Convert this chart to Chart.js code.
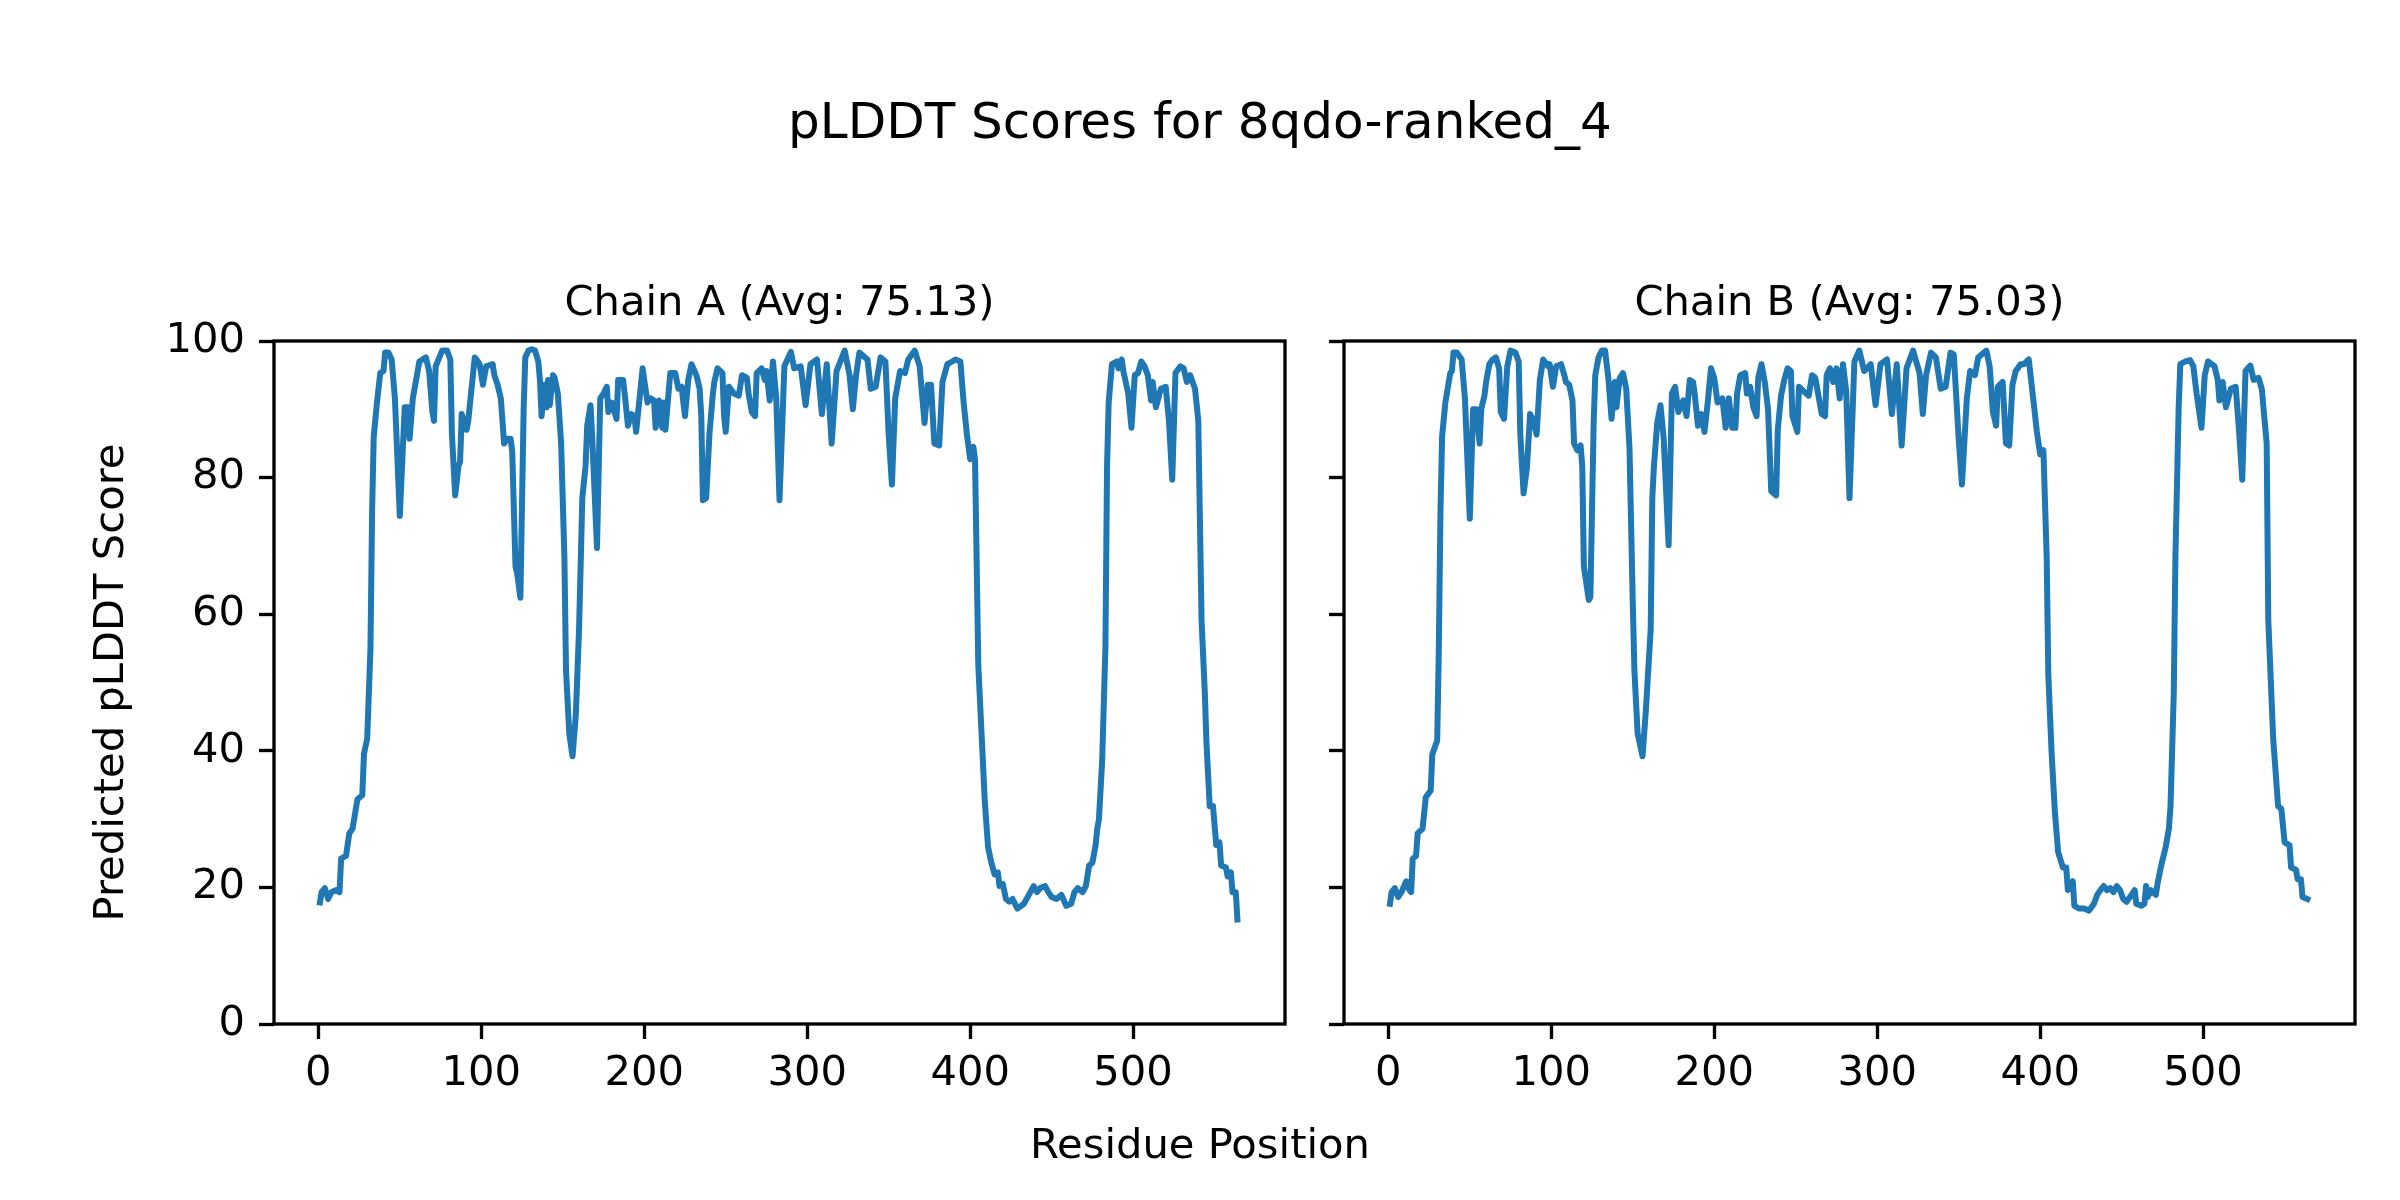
<!DOCTYPE html>
<html>
<head>
<meta charset="utf-8">
<script src="https://cdn.jsdelivr.net/npm/chart.js@4.4.0/dist/chart.umd.min.js"></script>
<style>
  html, body { margin: 0; padding: 0; background: #fff; }
  #wrap { position: relative; width: 2400px; height: 1200px; overflow: hidden; font-family: 'DejaVu Sans'; color: #000; }
  canvas { position: absolute; left: 0; top: 0; width: 2400px; height: 1200px; }
  .lbl { position: absolute; left: 0; width: 2400px; text-align: center; white-space: nowrap; }
  #suptitle { top: 91px; font-size: 50px; line-height: 60px; }
  #xlabel { top: 1119px; font-size: 41.67px; line-height: 50px; }
</style>
</head>
<body>
<div id="wrap">
  <canvas id="chainA" width="2400" height="1200"></canvas>
  <canvas id="chainB" width="2400" height="1200"></canvas>
  <div class="lbl" id="suptitle">pLDDT Scores for 8qdo-ranked_4</div>
  <div class="lbl" id="xlabel">Residue Position</div>
</div>
<script>
// ---- data (residue position / pLDDT) ----
const chainA_pos = [1,2,4,6,8,11,13,14,17,19,21,24,27,28,30,32,33,34,36,38,40,41,43,45,47,50,53,55,56,58,60,62,66,68,70,71,72,76,79,81,82,84,86,87,88,91,92,94,96,98,99,101,103,107,108,110,112,114,116,118,119,121,122,124,126,127,129,131,133,135,136,137,139,140,141,142,144,145,147,149,151,152,154,156,158,160,162,164,165,167,168,171,173,175,177,178,180,183,184,187,188,190,192,194,195,197,199,200,202,204,206,207,209,211,212,213,215,216,219,221,223,224,225,227,229,232,234,235,236,238,240,242,243,245,248,249,250,252,255,258,260,263,264,266,268,269,272,274,275,277,279,281,283,286,290,292,296,299,302,306,309,312,315,318,323,326,328,330,332,337,339,342,345,348,350,352,354,357,360,362,366,369,372,374,376,378,381,383,386,389,391,394,396,398,400,402,403,405,407,409,411,413,415,417,418,420,422,424,426,429,433,436,439,441,443,446,448,450,453,456,459,462,464,466,469,471,473,475,477,478,479,481,483,484,485,487,490,491,493,494,497,499,501,503,505,507,509,511,512,514,517,520,522,524,526,529,531,533,535,538,540,542,544,545,547,549,551,553,554,557,558,560,561,563,564];
const chainA_score = [17.8,19.3,19.9,18.3,19.3,19.6,19.3,24.2,24.6,27.9,28.6,32.9,33.5,39.5,41.8,55,75,86,91,95.3,95.6,98.3,98.3,97.3,91.6,74.4,90.3,90.3,85.7,91.6,94.3,97,97.6,95.6,89.6,88.3,96.3,98.6,98.6,97.3,86.3,77.4,81.7,82.3,89.3,87,88.3,93,97.6,97,96.6,93.6,96.3,96.6,95,93.6,91.6,85,85.7,85.7,83.7,67,66,62.4,90,97.6,98.6,98.8,98.6,97,94.3,89,93.6,90.3,94.3,90.6,95,94.6,92.3,85,68.4,51.8,42.5,39.2,45.2,57.8,77,81.7,87.6,90.6,86.3,69.7,91.6,92.3,93.3,89.6,91,88.6,94.3,94.3,92.3,87.6,89.3,89,86.7,91.3,96,94.3,91,91.6,91.3,87.3,91.3,87.3,91,87,92.6,95.3,95.3,93,93.3,91,89,94.3,96.6,95,93,89,76.7,77,86.3,92,94,96,95.3,89,86.7,93.3,92.3,92,95,94.6,92.3,89.6,89,95.3,96,94.3,95.6,91.3,97,91.6,76.7,96.3,98.4,96,96.3,90.6,96.6,97.3,89.3,96.6,85,95.6,98.6,95,90,95,98.3,97.3,93,93.3,97.6,97,86.3,79,91.6,95.6,95.3,97.3,98.6,96.3,88,93.6,93.6,85,84.7,94,96.6,97,97.3,97,91,86.3,82.7,84.5,82.5,52.5,42.5,32.5,25.9,23.6,21.9,22.2,20.2,20.5,18.3,17.9,18.3,16.9,17.6,18.9,20.2,19.3,19.9,20.2,19.3,18.6,18.3,18.9,17.3,17.6,19.3,19.9,19.3,20.2,23.2,23.6,26.2,28.6,29.9,38.5,55.1,81.7,91,96.6,97,96,97.3,95.6,92.3,87.3,95,95.3,97,96.3,95,91.3,94,90.3,93,93.3,88.3,79.7,95.3,96.3,96,94,95,93,88.3,59.1,48.5,41.2,31.9,31.9,26.2,26.6,23.2,22.9,21.6,22.2,19.3,19.3,15.3];

const chainB_pos = [1,2,4,6,8,11,13,14,15,17,18,21,23,26,27,30,31,32,33,35,38,39,40,42,45,47,50,52,54,56,57,59,60,62,64,66,68,69,71,73,75,78,80,81,83,85,87,89,91,92,93,95,98,99,101,103,106,108,109,111,113,114,116,118,119,120,123,124,126,127,129,131,133,135,137,139,140,142,144,146,148,150,151,153,156,158,161,162,163,165,167,169,172,174,176,178,181,183,185,187,188,190,192,194,196,198,200,202,205,207,209,211,213,214,216,219,220,222,224,226,227,229,231,233,235,238,239,241,243,245,247,248,251,252,255,258,260,262,264,266,268,269,271,273,275,277,279,281,283,286,289,292,296,299,302,306,309,312,315,318,322,326,328,330,333,336,339,342,345,347,350,352,355,357,360,362,367,369,371,373,374,377,379,381,383,385,388,390,393,396,398,400,402,404,405,407,409,411,414,416,417,420,421,424,427,430,433,435,437,439,441,443,445,447,449,451,453,456,458,459,462,464,465,466,468,471,472,474,475,477,479,480,482,483,485,486,489,492,494,496,499,501,503,507,509,510,512,514,517,520,522,524,526,529,531,534,536,539,540,543,546,548,550,553,554,557,558,560,561,564];
const chainB_score = [17.6,19.3,19.9,18.6,19.3,20.9,19.6,19.3,24.2,24.6,27.9,28.6,33.2,34.2,39.5,41.5,55.1,75,86,91,95.3,95.6,98.3,98.3,97.3,91.6,74,90,90,85,90,92,94,96.6,97.3,97.6,96,89.6,88.6,96.3,98.6,98.3,97,86.3,77.7,81.3,89.3,88.3,86.3,90.3,94.3,97.3,96.3,96.6,93.3,96.3,96.6,95,94,93.6,91.3,85,84,84.7,81.7,67,62.1,62.5,88,95,97.6,98.6,98.6,94.6,88.6,94,90.3,94.6,95.3,93,84.3,61.7,51.8,42.5,39.2,45.8,57.8,77,81.7,88,90.6,85.7,70.1,92.3,93.3,89.6,91.3,89,94.3,94,92.3,87.6,89.3,86.7,91,96,94.6,91,91.6,87.3,91.6,87.3,87.3,92.3,95,95.3,92.3,93.3,90.3,89,94.6,96.6,94,90,78,77.4,87,92,94.3,96,95.6,89,86.7,93.3,92.6,92,95,94.6,91.9,89.3,89,95,96,94,96,91.6,96.6,92.6,77,97,98.6,95.6,96.6,90.6,96.6,97.3,89.3,96.6,84.7,96,98.6,95.3,89.3,95,98.3,97.6,93,93.3,98.3,98,85.7,79,91.6,95.6,95,97.6,98.6,96.3,89.6,87.6,93.3,94,85,84.7,93.6,95.6,96.6,96.6,97.3,91,86.7,83.4,84,68.4,51.2,39.8,31.2,25.2,22.9,22.9,19.6,20.9,17.3,16.9,16.9,16.6,17.6,18.9,19.6,20.2,19.6,19.9,19.3,20.2,19.6,18.3,17.9,18.9,19.6,17.6,17.3,17.6,20.2,18.6,19.6,18.9,20.5,22.9,23.9,25.9,28.6,31.9,48.5,68.4,90.3,96.6,97,97.2,96.3,92.3,87.3,95,97,96.3,94.3,91.3,94,90.3,93,93.3,87,79.7,95.6,96.4,94.3,94.6,93,85,59.1,41.8,31.9,31.5,26.6,26.2,22.9,22.6,21.2,21.2,18.6,18.3];

const xTicks = [0, 100, 200, 300, 400, 500];
const yTicks = [0, 20, 40, 60, 80, 100];
const xMin = -27.2, xMax = 593.2;

Chart.defaults.font.family = 'DejaVu Sans';
Chart.defaults.color = '#000';

// draw the 4 spines around the plot area
const spines = {
  id: 'spines',
  afterDraw(chart) {
    const { ctx, chartArea: a } = chart;
    ctx.save();
    ctx.strokeStyle = '#000';
    ctx.lineWidth = 3.33;
    ctx.strokeRect(a.left, a.top, a.right - a.left, a.bottom - a.top);
    ctx.restore();
  }
};

function panel(canvasId, pos, score, title, pad, yWidth, showY) {
  const points = pos.map((p, i) => ({ x: p, y: score[i] }));
  return new Chart(document.getElementById(canvasId), {
    type: 'line',
    data: {
      datasets: [{
        data: points,
        borderColor: '#1f77b4',
        borderWidth: 6,
        borderJoinStyle: 'round',
        borderCapStyle: 'square',
        pointRadius: 0,
        tension: 0,
        fill: false
      }]
    },
    options: {
      responsive: false,
      animation: false,
      devicePixelRatio: 1,
      layout: { padding: pad },
      plugins: {
        legend: { display: false },
        tooltip: { enabled: false },
        title: {
          display: true,
          text: title,
          fullSize: false,
          color: '#000',
          font: { size: 41.67, weight: 'normal' },
          padding: { top: 279, bottom: 12 }
        }
      },
      scales: {
        x: {
          type: 'linear',
          min: xMin,
          max: xMax,
          afterFit: s => { s.height = 176; },
          afterBuildTicks: s => { s.ticks = xTicks.map(v => ({ value: v })); },
          border: { display: false },
          grid: { drawOnChartArea: false, tickLength: 15, tickWidth: 3.33, tickColor: '#000' },
          ticks: { color: '#000', padding: 10, font: { size: 41.67 }, maxRotation: 0, autoSkip: false }
        },
        y: {
          type: 'linear',
          min: 0,
          max: 100,
          afterFit: s => { s.width = yWidth; },
          afterBuildTicks: s => { s.ticks = yTicks.map(v => ({ value: v })); },
          border: { display: false },
          grid: { drawOnChartArea: false, tickLength: 15, tickWidth: 3.33, tickColor: '#000' },
          ticks: { color: showY ? '#000' : 'rgba(0,0,0,0)', padding: 14, font: { size: 41.67 } },
          title: {
            display: showY,
            text: 'Predicted pLDDT Score',
            color: '#000',
            font: { size: 41.67 },
            padding: { top: 87, bottom: 0 }
          }
        }
      }
    },
    plugins: [spines]
  });
}

panel('chainA', chainA_pos, chainA_score, 'Chain A (Avg: 75.13)', { left: 0, right: 1115, top: 0, bottom: 0 }, 274, true);
panel('chainB', chainB_pos, chainB_score, 'Chain B (Avg: 75.03)', { left: 1324, right: 45, top: 0, bottom: 0 }, 20, false);
</script>
</body>
</html>
